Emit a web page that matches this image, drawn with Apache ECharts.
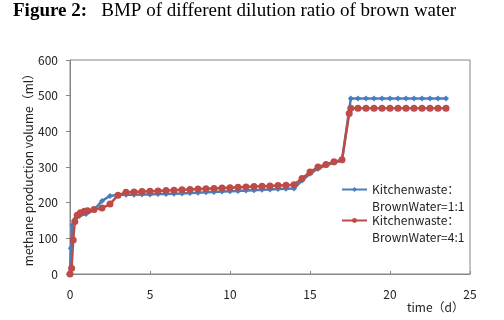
<!DOCTYPE html>
<html>
<head>
<meta charset="utf-8">
<script src="https://cdn.jsdelivr.net/npm/echarts@6/dist/echarts.min.js"></script>
<style>
	html, body { margin: 0; padding: 0; background: #fff; }
	#chart { width: 504px; height: 320px; }
</style>
</head>
<body>
<div id="chart"></div>
<script>
// time (d) and methane volume (ml)
var blueDays = [0, 0.05, 0.15, 0.35, 0.6, 1, 1.5, 2, 2.5, 3, 3.5, 4, 4.5, 5, 5.5, 6, 6.5, 7, 7.5, 8, 8.5, 9, 9.5, 10,
	10.5, 11, 11.5, 12, 12.5, 13, 13.5, 14, 14.5, 15, 15.5, 16, 16.5, 17, 17.55, 18, 18.5, 19, 19.5, 20, 20.5, 21,
	21.5, 22, 22.5, 23, 23.5];
var blueVolume = [0, 72, 137, 156, 163, 168, 180, 205, 219, 222, 222, 222, 223, 223, 224, 224, 225, 226, 227, 228,
	229, 230, 231, 232, 233, 234, 235, 236, 237, 238, 239, 240, 262, 281, 295, 305, 312, 318, 492, 492, 492, 492,
	492, 492, 492, 492, 492, 492, 492, 492, 492];

var redDays = [0, 0.1, 0.2, 0.3, 0.45, 0.65, 0.9, 1.1, 1.5, 2, 2.5, 3, 3.5, 4, 4.5, 5, 5.5, 6, 6.5, 7, 7.5, 8, 8.5,
	9, 9.5, 10, 10.5, 11, 11.5, 12, 12.5, 13, 13.5, 14, 14.5, 15, 15.5, 16, 16.5, 17, 17.45, 17.55, 18, 18.5, 19,
	19.5, 20, 20.5, 21, 21.5, 22, 22.5, 23, 23.5];
var redVolume = [0, 16, 95, 147, 165, 172, 176, 177, 181, 185, 196, 221, 229, 230, 231, 232, 233, 234, 235, 236,
	237, 238, 239, 240, 241, 242, 243, 244, 245, 246, 247, 248, 249, 250, 268, 286, 300, 307, 315, 320, 450, 465,
	465, 465, 465, 465, 465, 465, 465, 465, 465, 465, 465, 465];

var seriesNames = ['Kitchenwaste：\nBrownWater=1:1', 'Kitchenwaste：\nBrownWater=4:1'];
var xTicks = { min: 0, max: 25, step: 5 };
var yTicks = { min: 0, max: 600, step: 100 };

var cjk = '"Noto Sans CJK SC", "Noto Sans", sans-serif';
var serif = '"Liberation Serif", serif';
var axisGray = '#868686';

function pairs(xs, ys) {
	return xs.map(function(x, i) {
		return [x, ys[i]];
	});
}

var chart = echarts.init(document.getElementById('chart'), null, { renderer: 'canvas' });

chart.setOption({
	animation: false,
	title: {
		left: 13,
		top: 2,
		padding: 0,
		text: '{b|Figure 2:}{n|   BMP of different dilution ratio of brown water}',
		textStyle: {
			rich: {
				b: { fontFamily: serif, fontSize: 19, fontWeight: 'bold', color: '#000' },
				n: { fontFamily: serif, fontSize: 19, fontWeight: 'normal', color: '#000' }
			}
		}
	},
	grid: {
		left: 70,
		right: 34,
		top: 60,
		bottom: 46,
		show: true,
		borderColor: axisGray,
		borderWidth: 1
	},
	// empty first line so the icon sits next to the first text line
	legend: {
		orient: 'vertical',
		left: 336,
		top: 159,
		itemWidth: 25,
		itemHeight: 6,
		itemGap: -20,
		data: seriesNames,
		formatter: function(name) {
			return '\n' + name;
		},
		textStyle: {
			fontFamily: cjk,
			fontSize: 12,
			lineHeight: 17,
			color: '#222'
		}
	},
	xAxis: {
		type: 'value',
		min: xTicks.min,
		max: xTicks.max,
		interval: xTicks.step,
		axisLine: { lineStyle: { color: axisGray } },
		axisTick: { inside: true, length: 3, lineStyle: { color: axisGray } },
		axisLabel: { margin: 14, fontFamily: cjk, fontSize: 12, color: '#222' },
		splitLine: { show: false }
	},
	yAxis: {
		type: 'value',
		min: yTicks.min,
		max: yTicks.max,
		interval: yTicks.step,
		name: 'methane production volume（ml）',
		nameLocation: 'middle',
		nameGap: 36,
		nameMoveOverlap: false,
		nameTextStyle: { fontFamily: cjk, fontSize: 12, color: '#222' },
		axisLine: { show: true, lineStyle: { color: axisGray } },
		axisTick: { show: true, length: 4, lineStyle: { color: axisGray } },
		axisLabel: { margin: 12, fontFamily: cjk, fontSize: 12, color: '#222' },
		splitLine: { show: false }
	},
	graphic: [{
		type: 'text',
		left: 407,
		top: 301,
		style: { text: 'time（d）', fontFamily: cjk, fontSize: 12, fill: '#222' }
	}],
	series: [{
		name: seriesNames[0],
		type: 'line',
		data: pairs(blueDays, blueVolume),
		symbol: 'diamond',
		symbolSize: 6,
		color: '#4A7EBB',
		lineStyle: { width: 2.5, color: '#4A7EBB' },
		itemStyle: { color: '#4A7EBB' }
	}, {
		name: seriesNames[1],
		type: 'line',
		data: pairs(redDays, redVolume),
		symbol: 'circle',
		symbolSize: 7,
		color: '#BE4B48',
		lineStyle: { width: 2.5, color: '#BE4B48' },
		itemStyle: { color: '#BE4B48' }
	}]
});
</script>
</body>
</html>
